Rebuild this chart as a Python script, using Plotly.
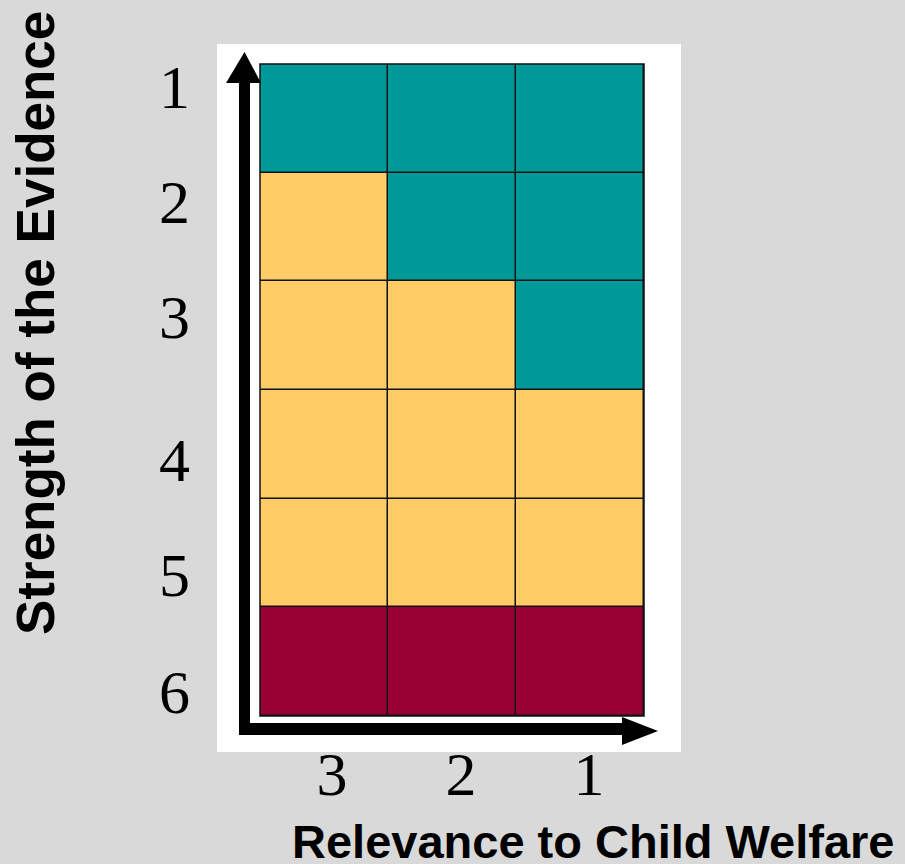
import plotly.graph_objects as go

# ---- data ----
relevance_labels = ["3", "2", "1"]          # columns, left to right
strength_labels = ["1", "2", "3", "4", "5", "6"]  # rows, top to bottom
# category of each cell: 0 = teal, 1 = yellow, 2 = maroon
cell_category = [
    [0, 0, 0],
    [1, 0, 0],
    [1, 1, 0],
    [1, 1, 1],
    [1, 1, 1],
    [2, 2, 2],
]
category_colors = ["#009999", "#FFCC66", "#990033"]

# ---- layout geometry (pixels) ----
W, H = 905, 864
PL, PR, PT, PB = 260, 644, 64, 716  # plot area


def px(x):
    return (x - PL) / (PR - PL)


def py(y):
    return (PB - y) / (PB - PT)


def path(points):
    s = "M " + " L ".join(f"{px(a):.5f},{py(b):.5f}" for a, b in points) + " Z"
    return s


ncols = len(relevance_labels)
nrows = len(strength_labels)

colorscale = []
n = len(category_colors)
for i, c in enumerate(category_colors):
    colorscale.append([i / n, c])
    colorscale.append([(i + 1) / n, c])

fig = go.Figure(
    go.Heatmap(
        z=cell_category,
        x=list(range(ncols)),
        y=list(range(nrows)),
        colorscale=colorscale,
        zmin=-0.5,
        zmax=n - 0.5,
        showscale=False,
        xgap=1.5,
        ygap=1.5,
        hoverinfo="skip",
    )
)

# tick label positions in pixel space (as in the reference)
ytick_px = [86, 201, 316, 459, 574, 691]
xtick_px = [332, 461, 589]
cell_h = (PB - PT) / nrows
cell_w = (PR - PL) / ncols
ytickvals = [(p - PT) / cell_h - 0.5 for p in ytick_px]
xtickvals = [(p - PL) / cell_w - 0.5 for p in xtick_px]

serif = dict(family="Liberation Serif, Times New Roman, serif", size=62, color="black")

fig.update_layout(
    width=W,
    height=H,
    margin=dict(l=PL, r=W - PR, t=PT, b=H - PB, pad=0),
    paper_bgcolor="#d9d9d9",
    plot_bgcolor="rgba(0,0,0,0)",
    showlegend=False,
    xaxis=dict(
        range=[-0.5, ncols - 0.5],
        tickvals=xtickvals,
        ticktext=relevance_labels,
        ticks="",
        showgrid=False,
        zeroline=False,
        showline=False,
        tickfont=serif,
        ticklabelstandoff=16,
        fixedrange=True,
    ),
    yaxis=dict(
        range=[nrows - 0.5, -0.5],
        tickvals=ytickvals,
        ticktext=strength_labels,
        ticks="",
        showgrid=False,
        zeroline=False,
        showline=False,
        tickfont=serif,
        ticklabelstandoff=69,
        fixedrange=True,
    ),
    shapes=[
        # white panel
        dict(type="rect", xref="paper", yref="paper",
             x0=px(217), x1=px(681), y0=py(752), y1=py(44),
             fillcolor="white", line=dict(width=0), layer="below"),
        # black under the heatmap -> grid lines
        dict(type="rect", xref="x domain", yref="y domain",
             x0=0, x1=1, y0=0, y1=1,
             fillcolor="#111111", line=dict(width=0), layer="below"),
        # outer border
        dict(type="rect", xref="x domain", yref="y domain",
             x0=0, x1=1, y0=0, y1=1,
             fillcolor="rgba(0,0,0,0)", line=dict(width=1.5, color="#111111"), layer="above"),
        # vertical arrow
        dict(type="path", xref="paper", yref="paper",
             path=path([(239, 735), (250, 735), (250, 83), (261, 83), (244.5, 52),
                        (226, 83), (239, 83)]),
             fillcolor="black", line=dict(width=0), layer="above"),
        # horizontal arrow
        dict(type="path", xref="paper", yref="paper",
             path=path([(239, 723), (622, 723), (622, 717), (658, 731), (622, 745),
                        (622, 735), (239, 735)]),
             fillcolor="black", line=dict(width=0), layer="above"),
    ],
    annotations=[
        dict(text="<b>Relevance to Child Welfare</b>", xref="paper", yref="paper",
             x=px(593), y=py(841), xanchor="center", yanchor="middle", showarrow=False,
             font=dict(family="Liberation Sans, Arial, sans-serif", size=47, color="black")),
        dict(text="<b>Strength of the Evidence</b>", xref="paper", yref="paper",
             x=px(35), y=py(323), xanchor="center", yanchor="middle", showarrow=False,
             textangle=-90,
             font=dict(family="Liberation Sans, Arial, sans-serif", size=53, color="black")),
    ],
)

fig.write_html(
    "out.html",
    config={"displayModeBar": False},
    post_script="document.body.style.margin='0px';document.body.style.overflow='hidden';",
)
